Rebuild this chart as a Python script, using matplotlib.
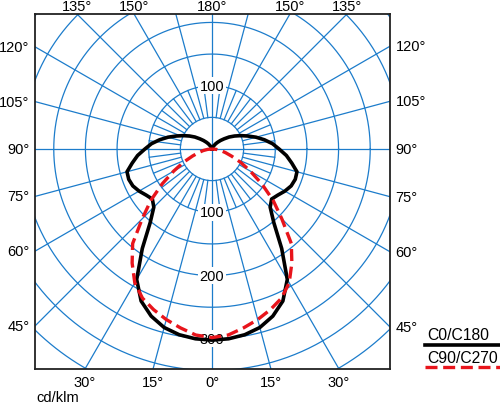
"""
Polar light distribution diagram (cd/klm), C0/C180 and C90/C270 planes.
"""

import numpy as np
import matplotlib
import matplotlib.pyplot as plt
from matplotlib.lines import Line2D

matplotlib.use("Agg")

plt.rcParams["font.family"] = ["Liberation Sans", "DejaVu Sans"]

GRID = "#1C7CCB"
FRAME = "#222222"

# gamma angle from nadir (deg), same for both planes
GAMMA = [0, 5, 10, 15, 20, 25, 30, 35, 40, 45, 50, 55, 60, 65, 70, 75, 80, 85, 90,
         95, 100, 105, 110, 115, 120, 125, 130, 135, 140, 145, 150, 155, 160, 165,
         170, 175, 180]
# cd/klm
C0_C180 = [302, 301, 298, 292, 281, 265, 238, 192, 152, 130, 123, 127, 133, 138,
           140, 139, 128, 118, 106, 96, 84, 72, 60, 50, 41, 33, 25, 19, 14, 10, 6,
           4, 2.5, 1.5, 1, 0.5, 0]
C90_C270 = [298, 295, 287, 279, 270, 260, 244, 220, 195, 156, 126, 96, 70, 50, 33,
            22, 14, 7, 0, 0, 0, 0, 0, 0, 0, 0, 0, 0, 0, 0, 0, 0, 0, 0, 0, 0, 0]

RINGS = [50, 100, 150, 200, 250, 300, 350, 400, 450]
RING_LABELS = [(100, "100"), (-100, "100"), (-200, "200"), (-300, "300")]
ANGLE_LABELS = [0, 15, 30, 45, 60, 75, 90, 105, 120, 135, 150, 180]

XLIM = (-279.6, 281.2)
YLIM = (-347.6, 213.3)


def full_curve(values):
    g = np.radians(np.array(GAMMA, dtype=float))
    r = np.array(values, dtype=float)
    # left half (C180 / C270) from 180 down to 0, then right half (C0 / C90)
    xl, yl = -r[::-1] * np.sin(g[::-1]), -r[::-1] * np.cos(g[::-1])
    xr, yr = r[1:] * np.sin(g[1:]), -r[1:] * np.cos(g[1:])
    return np.concatenate([xl, xr]), np.concatenate([yl, yr])


def ray(gamma_deg, side, r0, r1):
    g = np.radians(gamma_deg)
    dx, dy = side * np.sin(g), -np.cos(g)
    return [r0 * dx, r1 * dx], [r0 * dy, r1 * dy]


def frame_hit(gamma_deg, side):
    g = np.radians(gamma_deg)
    dx, dy = side * np.sin(g), -np.cos(g)
    hits = []
    if dx > 1e-9:
        hits.append((XLIM[1] / dx, "right"))
    if dx < -1e-9:
        hits.append((XLIM[0] / dx, "left"))
    if dy > 1e-9:
        hits.append((YLIM[1] / dy, "top"))
    if dy < -1e-9:
        hits.append((YLIM[0] / dy, "bottom"))
    t, where = min(hits)
    return t * dx, t * dy, where


def main() -> None:
    fig = plt.figure(figsize=(5.0, 4.06), dpi=100)
    ax = fig.add_axes([35 / 500, 36 / 406, 355 / 500, 355 / 406])
    ax.set_xlim(*XLIM)
    ax.set_ylim(*YLIM)
    ax.set_aspect("equal")
    ax.set_xticks([])
    ax.set_yticks([])
    for sp in ax.spines.values():
        sp.set_color(FRAME)
        sp.set_linewidth(1.3)
        sp.set_zorder(10)

    # rings
    t = np.linspace(0, 2 * np.pi, 720)
    for r in RINGS:
        ax.plot(r * np.cos(t), r * np.sin(t), color=GRID, lw=0.9, zorder=1)

    # axes through the centre
    ax.plot([-600, 600], [0, 0], color=GRID, lw=0.9, zorder=1)
    ax.plot([0, 0], [-600, 600], color=GRID, lw=0.9, zorder=1)

    # radial lines: every 15 deg to the frame, half steps only out to 100
    for a in np.arange(7.5, 180, 7.5):
        if a == 90:
            continue
        r1 = 700 if a % 15 == 0 else 100
        for side in (-1, 1):
            xs, ys = ray(a, side, 50, r1)
            ax.plot(xs, ys, color=GRID, lw=0.9, zorder=1)

    # intensity labels
    for y, txt in RING_LABELS:
        ax.text(0, y, txt, ha="center", va="center", fontsize=10.5, zorder=3,
                bbox=dict(facecolor="white", edgecolor="none", pad=1.0))

    # curves
    x, y = full_curve(C0_C180)
    ax.plot(x, y, color="black", lw=2.6, zorder=5, solid_joinstyle="round")
    x, y = full_curve(C90_C270)
    ax.plot(x, y, color="#E8141B", lw=2.4, zorder=6, dashes=(3.6, 1.7))

    # angle labels round the frame
    for a in ANGLE_LABELS:
        sides = (1,) if a in (0, 180) else (-1, 1)
        for side in sides:
            hx, hy, where = frame_hit(a, side)
            txt = f"{a}°"
            if where == "top":
                ax.annotate(txt, xy=(hx, 1), xycoords=("data", "axes fraction"),
                            xytext=(0, 1), textcoords="offset points",
                            ha="center", va="bottom", fontsize=10.5)
            elif where == "bottom":
                ax.annotate(txt, xy=(hx, 0), xycoords=("data", "axes fraction"),
                            xytext=(0, -4), textcoords="offset points",
                            ha="center", va="top", fontsize=10.5)
            elif where == "left":
                ax.annotate(txt, xy=(0, hy), xycoords=("axes fraction", "data"),
                            xytext=(-4, 0), textcoords="offset points",
                            ha="right", va="center", fontsize=10.5)
            else:
                ax.annotate(txt, xy=(1, hy), xycoords=("axes fraction", "data"),
                            xytext=(4, 0), textcoords="offset points",
                            ha="left", va="center", fontsize=10.5)

    def px(xp, yp):
        return xp / 500, 1 - yp / 406

    fig.text(*px(36, 398), "cd/klm", ha="left", va="center", fontsize=10.5)

    # legend
    fig.text(*px(427, 336), "C0/C180", ha="left", va="center", fontsize=11.3)
    fig.add_artist(Line2D([425 / 500, 1.0], [1 - 346 / 406] * 2, color="black", lw=2.6))
    fig.text(*px(427, 359), "C90/C270", ha="left", va="center", fontsize=11.3)
    fig.add_artist(Line2D([425 / 500, 1.0], [1 - 368 / 406] * 2, color="#E8141B", lw=2.4,
                          dashes=(3.6, 1.7)))

    fig.savefig("out.png", dpi=100)
    plt.close(fig)


if __name__ == "__main__":
    main()
